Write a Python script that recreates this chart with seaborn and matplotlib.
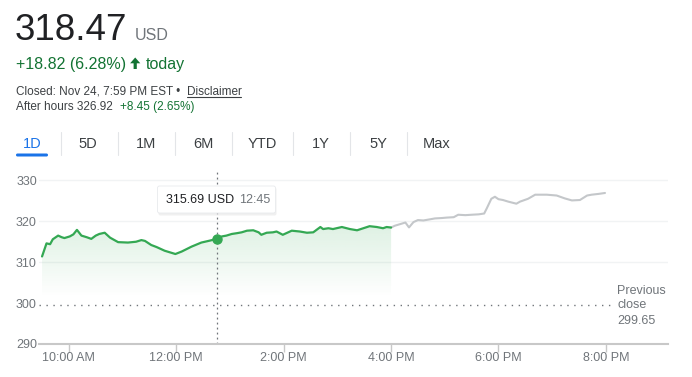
import numpy as np
import pandas as pd
import matplotlib
matplotlib.use('Agg')
import matplotlib.pyplot as plt
import seaborn as sns
from matplotlib.patches import FancyBboxPatch, Polygon

# Values (time of day, price in USD)
REGULAR_TIMES = ['9:30', '9:35', '9:39', '9:42', '9:48', '9:52', '9:55', '10:01', '10:05', '10:09',
                 '10:14', '10:20', '10:25', '10:30', '10:34', '10:40', '10:46', '10:55', '11:06', '11:15',
                 '11:21', '11:25', '11:32', '11:38', '11:47', '11:59', '12:06', '12:17', '12:28', '12:38',
                 '12:45', '12:51', '12:56', '13:02', '13:08', '13:13', '13:19', '13:26', '13:32', '13:35',
                 '13:41', '13:48', '13:52', '13:59', '14:09', '14:18', '14:26', '14:33', '14:41', '14:44',
                 '14:50', '14:55', '15:05', '15:14', '15:22', '15:29', '15:36', '15:44', '15:51', '15:55',
                 '16:00']
REGULAR_PRICES = [311.4, 314.6, 314.4, 315.6, 316.5, 316.1, 315.9, 316.3, 316.8, 317.9,
                  316.5, 316.1, 315.7, 316.5, 316.9, 317.2, 316.0, 314.9, 314.8, 315.0,
                  315.4, 315.2, 314.2, 313.7, 312.8, 312.0, 312.6, 313.8, 314.8, 315.3,
                  315.69, 316.3, 316.5, 316.9, 317.1, 317.3, 317.7, 317.8, 317.3, 316.7,
                  317.2, 317.3, 317.5, 316.7, 317.7, 317.5, 317.2, 317.3, 318.6, 318.1,
                  318.3, 318.1, 318.6, 318.1, 317.8, 318.3, 318.8, 318.6, 318.3, 318.6,
                  318.47]
AFTER_TIMES = ['16:00', '16:04', '16:10', '16:16', '16:20', '16:25', '16:30', '16:36', '16:44', '16:49',
               '16:57', '17:02', '17:10', '17:15', '17:23', '17:30', '17:38', '17:44', '17:47', '17:52',
               '17:56', '18:00', '18:05', '18:11', '18:20', '18:24', '18:33', '18:41', '18:54', '19:05',
               '19:14', '19:22', '19:31', '19:39', '19:44', '19:52', '19:59']
AFTER_PRICES = [318.47, 318.9, 319.3, 319.7, 318.5, 319.8, 320.3, 320.2, 320.5, 320.7,
                320.8, 320.9, 321.0, 321.6, 321.5, 321.6, 321.7, 321.9, 323.2, 325.5,
                326.0, 325.4, 325.2, 324.8, 324.3, 324.8, 325.5, 326.5, 326.5, 326.3,
                325.6, 325.1, 325.2, 326.3, 326.5, 326.7, 326.92]
PREV_CLOSE = 299.65
HOVER_TIME = '12:45'
HOVER_PRICE = 315.69
Y_TICKS = [290, 300, 310, 320, 330]
X_TICKS = ['10:00', '12:00', '14:00', '16:00', '18:00', '20:00']
X_TICK_LABELS = ['10:00 AM', '12:00 PM', '2:00 PM', '4:00 PM', '6:00 PM', '8:00 PM']
TABS = ['1D', '5D', '1M', '6M', 'YTD', '1Y', '5Y', 'Max']

GREEN = '#34a853'
TEXT_GREEN = '#137333'
GRAY = '#70757a'
DARK = '#202124'
AH_GRAY = '#c4c7ca'


def to_minutes(t):
    h, m = t.split(':')
    return int(h) * 60 + int(m)


def draw_chart():
    sns.set_theme(style='white')
    plt.rcParams['font.family'] = ['Liberation Sans', 'DejaVu Sans']

    reg = pd.DataFrame({'t': [to_minutes(t) for t in REGULAR_TIMES], 'price': REGULAR_PRICES})
    ah = pd.DataFrame({'t': [to_minutes(t) for t in AFTER_TIMES], 'price': AFTER_PRICES})

    fig = plt.figure(figsize=(6.92, 3.77), dpi=100)

    # background layer in pixel coordinates for the header text
    bg = fig.add_axes([0, 0, 1, 1])
    bg.set_xlim(0, 692)
    bg.set_ylim(377, 0)
    bg.axis('off')

    bg.text(15, 40, '318.47', fontsize=26.5, color=DARK, va='baseline')
    bg.text(135, 40, 'USD', fontsize=11.5, color=GRAY, va='baseline')
    bg.text(16, 69, '+18.82 (6.28%)', fontsize=11.5, color=TEXT_GREEN, va='baseline')
    # bold up arrow
    bg.add_patch(Polygon([(135.2, 57.5), (140.3, 63.3), (136.8, 63.3), (136.8, 69),
                          (133.6, 69), (133.6, 63.3), (130.1, 63.3)], closed=True,
                         fc=TEXT_GREEN, ec='none'))
    bg.text(146, 69, 'today', fontsize=11.5, color=TEXT_GREEN, va='baseline')
    bg.text(16, 95, 'Closed: Nov 24, 7:59 PM EST \u2022', fontsize=8.5, color='#3c4043', va='baseline')
    bg.text(187, 95, 'Disclaimer', fontsize=8.5, color='#3c4043', va='baseline')
    bg.plot([187, 241], [96.8, 96.8], color='#3c4043', lw=0.8)
    bg.text(16, 110, 'After hours 326.92', fontsize=8.5, color='#3c4043', va='baseline')
    bg.text(120, 110, '+8.45 (2.65%)', fontsize=8.5, color=TEXT_GREEN, va='baseline')

    # range tabs
    tab_x = [32.5, 88, 146.5, 203, 262.5, 320.5, 378, 436.5]
    for i, (lab, x) in enumerate(zip(TABS, tab_x)):
        bg.text(x, 143.5, lab, fontsize=10.5, ha='center', va='center',
                color='#1a73e8' if i == 0 else '#3c4043')
    for x in [60.5, 118, 175, 231.5, 292.5, 349.5, 406.5]:
        bg.plot([x, x], [132, 155], color='#e3e5e8', lw=0.8)
    bg.add_patch(FancyBboxPatch((16, 153.5), 32, 3, boxstyle='round,pad=0,rounding_size=1.5',
                                fc='#1a73e8', ec='none'))

    # price chart
    ax = fig.add_axes([39 / 692, 33 / 377, 629 / 692, 171.8 / 377])
    ax.patch.set_alpha(0)
    xmin, xmax = 566.6, 1269.4
    ymin, ymax = 290, 332

    for y in [310, 320, 330]:
        ax.axhline(y, color='#f1f3f4', lw=1, zorder=0)

    # gradient fill under the regular session line
    poly = ax.fill_between(reg['t'], reg['price'], 301.5, color='none', lw=0)
    rgba = np.zeros((256, 1, 4))
    rgba[..., :3] = matplotlib.colors.to_rgb(GREEN)
    rgba[..., 3] = np.linspace(0.0, 0.16, 256)[:, None]
    im = ax.imshow(rgba, extent=[reg['t'].min(), reg['t'].max(), 301.5, max(REGULAR_PRICES)],
                   origin='lower', aspect='auto', zorder=1)
    im.set_clip_path(poly.get_paths()[0], transform=ax.transData)

    sns.lineplot(data=ah, x='t', y='price', color=AH_GRAY, lw=1.5, ax=ax, zorder=2)
    sns.lineplot(data=reg, x='t', y='price', color=GREEN, lw=1.6, ax=ax, zorder=3)

    ax.axhline(PREV_CLOSE, xmax=(to_minutes('20:05') - xmin) / (xmax - xmin),
               color=GRAY, lw=1, ls=(0, (1, 4)), zorder=2)
    ax.axvline(to_minutes(HOVER_TIME), color=GRAY, lw=0.9, ls=(0, (1.5, 2.5)), zorder=2)
    ax.plot([to_minutes(HOVER_TIME)], [HOVER_PRICE], 'o', color=GREEN, ms=6.5, zorder=4)

    ax.set_xlim(xmin, xmax)
    ax.set_ylim(ymin, ymax)
    ax.set_yticks(Y_TICKS)
    ax.set_xticks([to_minutes(t) for t in X_TICKS])
    ax.set_xticklabels(X_TICK_LABELS)
    ax.set_xlabel('')
    ax.set_ylabel('')
    for s in ['top', 'right', 'left']:
        ax.spines[s].set_visible(False)
    ax.spines['bottom'].set_color('#c8c8c8')
    ax.spines['bottom'].set_linewidth(1.5)
    ax.tick_params(axis='y', length=0, pad=1.5, labelsize=9, labelcolor=GRAY)
    ax.tick_params(axis='x', bottom=True, length=5.5, width=1, color='#c8c8c8', pad=0.5,
                   labelsize=9, labelcolor=GRAY)

    # previous close label and tooltip on a top layer
    top = fig.add_axes([0, 0, 1, 1], zorder=5)
    top.set_xlim(0, 692)
    top.set_ylim(377, 0)
    top.axis('off')
    for txt, y in zip(['Previous', 'close', '299.65'], [290.5, 305.5, 320.5]):
        top.text(617, y, txt, fontsize=9, color=GRAY, va='center')

    top.add_patch(FancyBboxPatch((158.5, 187.5), 118, 28, boxstyle='round,pad=0,rounding_size=2',
                                 fc='#e6e6e6', ec='none', alpha=0.6))
    top.add_patch(FancyBboxPatch((157.5, 186), 118, 27, boxstyle='round,pad=0,rounding_size=2',
                                 fc='white', ec='#e8eaed', lw=0.6))
    top.text(166, 200, '315.69 USD', fontsize=9, color=DARK, va='center')
    top.text(239, 200, '12:45', fontsize=9, color=GRAY, va='center')

    fig.savefig('out.png', dpi=100)


if __name__ == '__main__':
    draw_chart()
